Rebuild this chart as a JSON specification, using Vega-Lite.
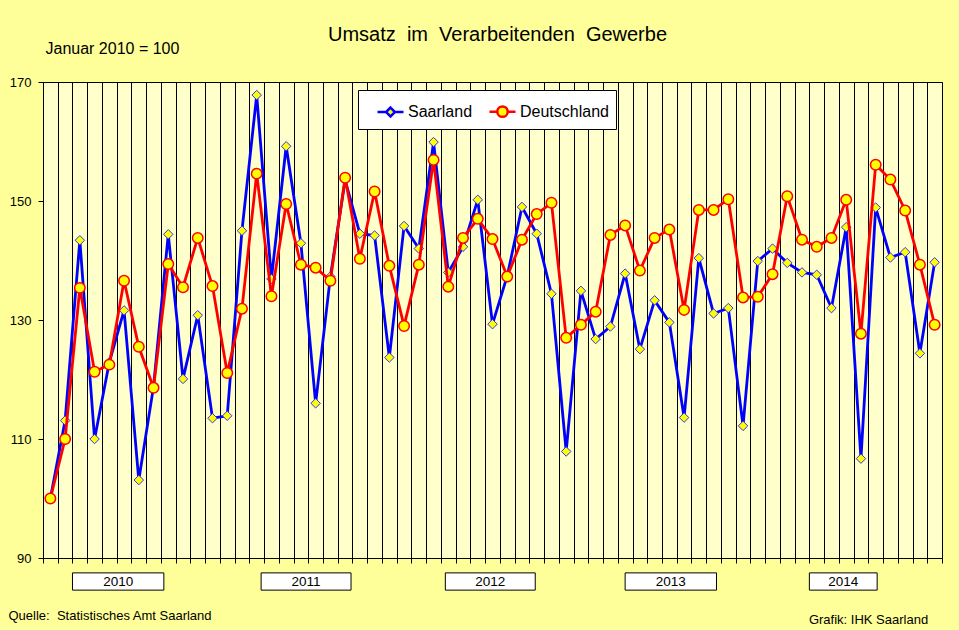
{
  "$schema": "https://vega.github.io/schema/vega-lite/v6.json",
  "width": 899,
  "height": 476,
  "autosize": "none",
  "padding": {"left": 43, "top": 82, "right": 17, "bottom": 72},
  "background": "#FFFF99",
  "title": {
    "text": "Umsatz\u00a0 im\u00a0 Verarbeitenden\u00a0 Gewerbe",
    "fontSize": 20,
    "fontWeight": "normal",
    "color": "black",
    "anchor": "middle",
    "dx": 5,
    "offset": -5
  },
  "config": {
    "font": "Liberation Sans",
    "view": {"fill": "#FFFFCC", "stroke": "black", "strokeWidth": 1},
    "axis": {
      "domainColor": "black",
      "tickColor": "black",
      "labelColor": "black",
      "labelFontSize": 13,
      "titleColor": "black",
      "titleFontWeight": "normal"
    }
  },
  "datasets": {
    "umsatz": [
      {"Monat": "2010-01", "m": 0, "Region": "Saarland", "Wert": 100.0},
      {"Monat": "2010-02", "m": 1, "Region": "Saarland", "Wert": 113.1},
      {"Monat": "2010-03", "m": 2, "Region": "Saarland", "Wert": 143.4},
      {"Monat": "2010-04", "m": 3, "Region": "Saarland", "Wert": 110.0},
      {"Monat": "2010-05", "m": 4, "Region": "Saarland", "Wert": 122.9},
      {"Monat": "2010-06", "m": 5, "Region": "Saarland", "Wert": 131.6},
      {"Monat": "2010-07", "m": 6, "Region": "Saarland", "Wert": 103.1},
      {"Monat": "2010-08", "m": 7, "Region": "Saarland", "Wert": 118.8},
      {"Monat": "2010-09", "m": 8, "Region": "Saarland", "Wert": 144.4},
      {"Monat": "2010-10", "m": 9, "Region": "Saarland", "Wert": 120.1},
      {"Monat": "2010-11", "m": 10, "Region": "Saarland", "Wert": 130.8},
      {"Monat": "2010-12", "m": 11, "Region": "Saarland", "Wert": 113.5},
      {"Monat": "2011-01", "m": 12, "Region": "Saarland", "Wert": 113.9},
      {"Monat": "2011-02", "m": 13, "Region": "Saarland", "Wert": 145.0},
      {"Monat": "2011-03", "m": 14, "Region": "Saarland", "Wert": 167.8},
      {"Monat": "2011-04", "m": 15, "Region": "Saarland", "Wert": 136.9},
      {"Monat": "2011-05", "m": 16, "Region": "Saarland", "Wert": 159.2},
      {"Monat": "2011-06", "m": 17, "Region": "Saarland", "Wert": 142.9},
      {"Monat": "2011-07", "m": 18, "Region": "Saarland", "Wert": 116.0},
      {"Monat": "2011-08", "m": 19, "Region": "Saarland", "Wert": 137.3},
      {"Monat": "2011-09", "m": 20, "Region": "Saarland", "Wert": 153.5},
      {"Monat": "2011-10", "m": 21, "Region": "Saarland", "Wert": 144.5},
      {"Monat": "2011-11", "m": 22, "Region": "Saarland", "Wert": 144.2},
      {"Monat": "2011-12", "m": 23, "Region": "Saarland", "Wert": 123.7},
      {"Monat": "2012-01", "m": 24, "Region": "Saarland", "Wert": 145.8},
      {"Monat": "2012-02", "m": 25, "Region": "Saarland", "Wert": 142.0},
      {"Monat": "2012-03", "m": 26, "Region": "Saarland", "Wert": 159.9},
      {"Monat": "2012-04", "m": 27, "Region": "Saarland", "Wert": 138.0},
      {"Monat": "2012-05", "m": 28, "Region": "Saarland", "Wert": 142.3},
      {"Monat": "2012-06", "m": 29, "Region": "Saarland", "Wert": 150.2},
      {"Monat": "2012-07", "m": 30, "Region": "Saarland", "Wert": 129.3},
      {"Monat": "2012-08", "m": 31, "Region": "Saarland", "Wert": 137.4},
      {"Monat": "2012-09", "m": 32, "Region": "Saarland", "Wert": 149.0},
      {"Monat": "2012-10", "m": 33, "Region": "Saarland", "Wert": 144.5},
      {"Monat": "2012-11", "m": 34, "Region": "Saarland", "Wert": 134.4},
      {"Monat": "2012-12", "m": 35, "Region": "Saarland", "Wert": 107.9},
      {"Monat": "2013-01", "m": 36, "Region": "Saarland", "Wert": 134.9},
      {"Monat": "2013-02", "m": 37, "Region": "Saarland", "Wert": 126.8},
      {"Monat": "2013-03", "m": 38, "Region": "Saarland", "Wert": 128.9},
      {"Monat": "2013-04", "m": 39, "Region": "Saarland", "Wert": 137.8},
      {"Monat": "2013-05", "m": 40, "Region": "Saarland", "Wert": 125.1},
      {"Monat": "2013-06", "m": 41, "Region": "Saarland", "Wert": 133.3},
      {"Monat": "2013-07", "m": 42, "Region": "Saarland", "Wert": 129.6},
      {"Monat": "2013-08", "m": 43, "Region": "Saarland", "Wert": 113.6},
      {"Monat": "2013-09", "m": 44, "Region": "Saarland", "Wert": 140.4},
      {"Monat": "2013-10", "m": 45, "Region": "Saarland", "Wert": 131.1},
      {"Monat": "2013-11", "m": 46, "Region": "Saarland", "Wert": 132.0},
      {"Monat": "2013-12", "m": 47, "Region": "Saarland", "Wert": 112.2},
      {"Monat": "2014-01", "m": 48, "Region": "Saarland", "Wert": 139.9},
      {"Monat": "2014-02", "m": 49, "Region": "Saarland", "Wert": 142.0},
      {"Monat": "2014-03", "m": 50, "Region": "Saarland", "Wert": 139.6},
      {"Monat": "2014-04", "m": 51, "Region": "Saarland", "Wert": 138.0},
      {"Monat": "2014-05", "m": 52, "Region": "Saarland", "Wert": 137.6},
      {"Monat": "2014-06", "m": 53, "Region": "Saarland", "Wert": 132.0},
      {"Monat": "2014-07", "m": 54, "Region": "Saarland", "Wert": 145.6},
      {"Monat": "2014-08", "m": 55, "Region": "Saarland", "Wert": 106.7},
      {"Monat": "2014-09", "m": 56, "Region": "Saarland", "Wert": 148.9},
      {"Monat": "2014-10", "m": 57, "Region": "Saarland", "Wert": 140.5},
      {"Monat": "2014-11", "m": 58, "Region": "Saarland", "Wert": 141.4},
      {"Monat": "2014-12", "m": 59, "Region": "Saarland", "Wert": 124.4},
      {"Monat": "2015-01", "m": 60, "Region": "Saarland", "Wert": 139.7},
      {"Monat": "2010-01", "m": 0, "Region": "Deutschland", "Wert": 100.0},
      {"Monat": "2010-02", "m": 1, "Region": "Deutschland", "Wert": 110.0},
      {"Monat": "2010-03", "m": 2, "Region": "Deutschland", "Wert": 135.4},
      {"Monat": "2010-04", "m": 3, "Region": "Deutschland", "Wert": 121.3},
      {"Monat": "2010-05", "m": 4, "Region": "Deutschland", "Wert": 122.5},
      {"Monat": "2010-06", "m": 5, "Region": "Deutschland", "Wert": 136.6},
      {"Monat": "2010-07", "m": 6, "Region": "Deutschland", "Wert": 125.5},
      {"Monat": "2010-08", "m": 7, "Region": "Deutschland", "Wert": 118.6},
      {"Monat": "2010-09", "m": 8, "Region": "Deutschland", "Wert": 139.4},
      {"Monat": "2010-10", "m": 9, "Region": "Deutschland", "Wert": 135.5},
      {"Monat": "2010-11", "m": 10, "Region": "Deutschland", "Wert": 143.8},
      {"Monat": "2010-12", "m": 11, "Region": "Deutschland", "Wert": 135.7},
      {"Monat": "2011-01", "m": 12, "Region": "Deutschland", "Wert": 121.1},
      {"Monat": "2011-02", "m": 13, "Region": "Deutschland", "Wert": 131.9},
      {"Monat": "2011-03", "m": 14, "Region": "Deutschland", "Wert": 154.6},
      {"Monat": "2011-04", "m": 15, "Region": "Deutschland", "Wert": 134.0},
      {"Monat": "2011-05", "m": 16, "Region": "Deutschland", "Wert": 149.5},
      {"Monat": "2011-06", "m": 17, "Region": "Deutschland", "Wert": 139.3},
      {"Monat": "2011-07", "m": 18, "Region": "Deutschland", "Wert": 138.8},
      {"Monat": "2011-08", "m": 19, "Region": "Deutschland", "Wert": 136.6},
      {"Monat": "2011-09", "m": 20, "Region": "Deutschland", "Wert": 153.9},
      {"Monat": "2011-10", "m": 21, "Region": "Deutschland", "Wert": 140.3},
      {"Monat": "2011-11", "m": 22, "Region": "Deutschland", "Wert": 151.6},
      {"Monat": "2011-12", "m": 23, "Region": "Deutschland", "Wert": 139.1},
      {"Monat": "2012-01", "m": 24, "Region": "Deutschland", "Wert": 129.0},
      {"Monat": "2012-02", "m": 25, "Region": "Deutschland", "Wert": 139.3},
      {"Monat": "2012-03", "m": 26, "Region": "Deutschland", "Wert": 156.9},
      {"Monat": "2012-04", "m": 27, "Region": "Deutschland", "Wert": 135.6},
      {"Monat": "2012-05", "m": 28, "Region": "Deutschland", "Wert": 143.8},
      {"Monat": "2012-06", "m": 29, "Region": "Deutschland", "Wert": 147.0},
      {"Monat": "2012-07", "m": 30, "Region": "Deutschland", "Wert": 143.6},
      {"Monat": "2012-08", "m": 31, "Region": "Deutschland", "Wert": 137.3},
      {"Monat": "2012-09", "m": 32, "Region": "Deutschland", "Wert": 143.5},
      {"Monat": "2012-10", "m": 33, "Region": "Deutschland", "Wert": 147.8},
      {"Monat": "2012-11", "m": 34, "Region": "Deutschland", "Wert": 149.7},
      {"Monat": "2012-12", "m": 35, "Region": "Deutschland", "Wert": 127.0},
      {"Monat": "2013-01", "m": 36, "Region": "Deutschland", "Wert": 129.2},
      {"Monat": "2013-02", "m": 37, "Region": "Deutschland", "Wert": 131.4},
      {"Monat": "2013-03", "m": 38, "Region": "Deutschland", "Wert": 144.3},
      {"Monat": "2013-04", "m": 39, "Region": "Deutschland", "Wert": 145.9},
      {"Monat": "2013-05", "m": 40, "Region": "Deutschland", "Wert": 138.3},
      {"Monat": "2013-06", "m": 41, "Region": "Deutschland", "Wert": 143.8},
      {"Monat": "2013-07", "m": 42, "Region": "Deutschland", "Wert": 145.2},
      {"Monat": "2013-08", "m": 43, "Region": "Deutschland", "Wert": 131.7},
      {"Monat": "2013-09", "m": 44, "Region": "Deutschland", "Wert": 148.5},
      {"Monat": "2013-10", "m": 45, "Region": "Deutschland", "Wert": 148.5},
      {"Monat": "2013-11", "m": 46, "Region": "Deutschland", "Wert": 150.3},
      {"Monat": "2013-12", "m": 47, "Region": "Deutschland", "Wert": 133.8},
      {"Monat": "2014-01", "m": 48, "Region": "Deutschland", "Wert": 133.9},
      {"Monat": "2014-02", "m": 49, "Region": "Deutschland", "Wert": 137.7},
      {"Monat": "2014-03", "m": 50, "Region": "Deutschland", "Wert": 150.8},
      {"Monat": "2014-04", "m": 51, "Region": "Deutschland", "Wert": 143.5},
      {"Monat": "2014-05", "m": 52, "Region": "Deutschland", "Wert": 142.3},
      {"Monat": "2014-06", "m": 53, "Region": "Deutschland", "Wert": 143.8},
      {"Monat": "2014-07", "m": 54, "Region": "Deutschland", "Wert": 150.2},
      {"Monat": "2014-08", "m": 55, "Region": "Deutschland", "Wert": 127.7},
      {"Monat": "2014-09", "m": 56, "Region": "Deutschland", "Wert": 156.1},
      {"Monat": "2014-10", "m": 57, "Region": "Deutschland", "Wert": 153.6},
      {"Monat": "2014-11", "m": 58, "Region": "Deutschland", "Wert": 148.4},
      {"Monat": "2014-12", "m": 59, "Region": "Deutschland", "Wert": 139.3},
      {"Monat": "2015-01", "m": 60, "Region": "Deutschland", "Wert": 129.2}
    ],
    "jahre": [
      {"Jahr": "2010", "von": 1.5, "bis": 7.7},
      {"Jahr": "2011", "von": 14.3, "bis": 20.4},
      {"Jahr": "2012", "von": 26.8, "bis": 32.9},
      {"Jahr": "2013", "von": 39.0, "bis": 45.2},
      {"Jahr": "2014", "von": 51.5, "bis": 56.1}
    ]
  },
  "layer": [
    {
      "data": {"name": "umsatz"},
      "transform": [{"filter": "datum.Region === 'Saarland'"}],
      "mark": {"type": "line", "strokeWidth": 2.8},
      "encoding": {
        "x": {
          "field": "m",
          "type": "quantitative",
          "title": "Quelle:\u00a0 Statistisches Amt Saarland",
          "scale": {"domain": [-0.5, 60.5], "nice": false, "zero": false},
          "axis": {
            "values": [-0.5, 0.5, 1.5, 2.5, 3.5, 4.5, 5.5, 6.5, 7.5, 8.5, 9.5, 10.5, 11.5, 12.5, 13.5, 14.5, 15.5, 16.5, 17.5, 18.5, 19.5, 20.5, 21.5, 22.5, 23.5, 24.5, 25.5, 26.5, 27.5, 28.5, 29.5, 30.5, 31.5, 32.5, 33.5, 34.5, 35.5, 36.5, 37.5, 38.5, 39.5, 40.5, 41.5, 42.5, 43.5, 44.5, 45.5, 46.5, 47.5, 48.5, 49.5, 50.5, 51.5, 52.5, 53.5, 54.5, 55.5, 56.5, 57.5, 58.5, 59.5, 60.5],
            "tickCount": 200,
            "grid": true,
            "gridColor": "black",
            "gridOpacity": 1,
            "gridWidth": 1,
            "labels": false,
            "tickSize": 5,
            "titleFontSize": 13,
            "titleAnchor": "start",
            "titleAlign": "left",
            "titleBaseline": "alphabetic",
            "titleX": -35,
            "titleY": 61
          }
        },
        "y": {
          "field": "Wert",
          "type": "quantitative",
          "scale": {"domain": [90, 170], "nice": false, "zero": false},
          "axis": {
            "values": [90, 110, 130, 150, 170],
            "grid": false,
            "tickSize": 5,
            "labelPadding": 7,
            "title": "Januar 2010 = 100",
            "titleFontSize": 16,
            "titleAngle": 0,
            "titleAlign": "left",
            "titleBaseline": "alphabetic",
            "titleX": 2,
            "titleY": -29
          }
        },
        "stroke": {
          "field": "Region",
          "type": "nominal",
          "scale": {"domain": ["Saarland", "Deutschland"], "range": ["#0000FF", "#FF0000"]},
          "legend": {
            "title": null,
            "orient": "none",
            "legendX": 315,
            "legendY": 8,
            "direction": "horizontal",
            "fillColor": "white",
            "strokeColor": "black",
            "padding": 7,
            "labelFontSize": 16,
            "labelColor": "black",
            "labelOffset": 3,
            "symbolSize": 676,
            "symbolOffset": 11,
            "symbolStrokeWidth": 2.5,
            "columnPadding": 4,
            "encode": {
              "symbols": {
                "update": {
                  "shape": {"signal": "datum.value === 'Saarland' ? 'M-1,0H-0.34M0.34,0H1M0,-0.34L0.34,0L0,0.34L-0.34,0Z' : 'M-1,0H-0.4M0.4,0H1M0.4,0A0.4,0.4,0,1,1,-0.4,0A0.4,0.4,0,1,1,0.4,0Z'"},
                  "fill": {"value": "#FFFF00"},
                  "fillOpacity": {"value": 1}
                }
              }
            }
          }
        }
      }
    },
    {
      "data": {"name": "umsatz"},
      "transform": [{"filter": "datum.Region === 'Saarland'"}],
      "mark": {"type": "point", "shape": "diamond", "filled": true, "fill": "#FFFF00", "stroke": "#3030FF", "strokeWidth": 1, "size": 90, "opacity": 1},
      "encoding": {
        "x": {"field": "m", "type": "quantitative"},
        "y": {"field": "Wert", "type": "quantitative"}
      }
    },
    {
      "data": {"name": "umsatz"},
      "transform": [{"filter": "datum.Region === 'Deutschland'"}],
      "mark": {"type": "line", "strokeWidth": 2.8},
      "encoding": {
        "x": {"field": "m", "type": "quantitative"},
        "y": {"field": "Wert", "type": "quantitative"},
        "stroke": {
          "field": "Region",
          "type": "nominal",
          "scale": {"domain": ["Saarland", "Deutschland"], "range": ["#0000FF", "#FF0000"]}
        }
      }
    },
    {
      "data": {"name": "umsatz"},
      "transform": [{"filter": "datum.Region === 'Deutschland'"}],
      "mark": {"type": "point", "shape": "circle", "filled": true, "fill": "#FFFF00", "stroke": "#FF0000", "strokeWidth": 1.5, "size": 110, "opacity": 1},
      "encoding": {
        "x": {"field": "m", "type": "quantitative"},
        "y": {"field": "Wert", "type": "quantitative"}
      }
    },
    {
      "data": {"name": "jahre"},
      "mark": {"type": "rect", "fill": "white", "stroke": "black", "strokeWidth": 1},
      "encoding": {
        "x": {"field": "von", "type": "quantitative"},
        "x2": {"field": "bis"},
        "y": {"datum": 87.5, "type": "quantitative"},
        "y2": {"datum": 84.6}
      }
    },
    {
      "data": {"name": "jahre"},
      "transform": [{"calculate": "(datum.von + datum.bis) / 2", "as": "mitte"}],
      "mark": {"type": "text", "fontSize": 13.5, "color": "black", "align": "center", "baseline": "middle"},
      "encoding": {
        "x": {"field": "mitte", "type": "quantitative"},
        "y": {"datum": 86.05, "type": "quantitative"},
        "text": {"field": "Jahr", "type": "nominal"}
      }
    },
    {
      "data": {"values": [{"Text": "Grafik: IHK Saarland"}]},
      "mark": {"type": "text", "fontSize": 13, "color": "black", "align": "left", "baseline": "alphabetic"},
      "encoding": {
        "x": {"datum": 51.47, "type": "quantitative"},
        "y": {"datum": 78.9, "type": "quantitative"},
        "text": {"field": "Text", "type": "nominal"}
      }
    }
  ]
}
